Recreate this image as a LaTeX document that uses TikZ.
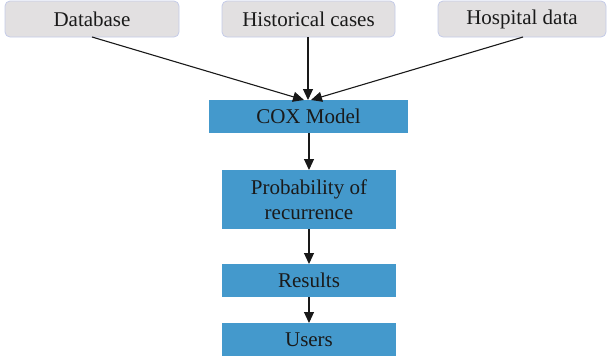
\documentclass[tikz,border=0pt]{standalone}
\usepackage{fontspec}
\setmainfont{Liberation Serif}
\usetikzlibrary{arrows.meta}
\definecolor{boxblue}{RGB}{68,153,204}
\definecolor{graybox}{RGB}{226,224,225}
\definecolor{grayedge}{RGB}{196,203,232}
\definecolor{txt}{RGB}{26,26,26}
\begin{document}
\begin{tikzpicture}[x=1pt,y=-1pt,
  every node/.style={font=\fontsize{21}{25}\selectfont, text=txt, inner sep=0pt, align=center},
  srcbox/.style={draw=grayedge, fill=graybox, rounded corners=5pt, line width=0.8pt},
  bluebox/.style={fill=boxblue},
  arr/.style={-{Triangle[length=11pt,width=10pt]}, line width=1.1pt, draw=black!90}]
\useasboundingbox (0,0) rectangle (607,360);
% source boxes
\draw[srcbox] (5,1) rectangle (179,37);
\node (db) at (92,19) {Database};
\draw[srcbox] (222,1) rectangle (395,37);
\node (hc) at (308.5,19) {Historical cases};
\draw[srcbox] (438,1) rectangle (606,37);
\node (hd) at (522,19) {Hospital data};
\coordinate (dbs) at (92,37);
\coordinate (hcs) at (308,37);
\coordinate (hds) at (523,37);
% blue boxes
\fill[bluebox] (209,100) rectangle (408,133);
\node (cox) at (308.5,116.5) {COX Model};
\fill[bluebox] (222,170) rectangle (396,229);
\node (prob) at (309,199.5) {Probability of\\recurrence};
\fill[bluebox] (222,264) rectangle (396,297);
\node (res) at (309,280.5) {Results};
\fill[bluebox] (222,323) rectangle (396,356);
\node (usr) at (309,339.5) {Users};
\coordinate (coxa) at (304,100);
\coordinate (coxb) at (308,100);
\coordinate (coxc) at (311,100);
\coordinate (coxbot) at (309,133);
\coordinate (probtop) at (309,170);
\coordinate (probbot) at (309,229);
\coordinate (restop) at (309,264);
\coordinate (resbot) at (309,297);
\coordinate (usrtop) at (309,323);
% connectors
\draw[arr] (dbs) -- (coxa);
\draw[arr] (hcs) -- (coxb);
\draw[arr] (hds) -- (coxc);
\draw[arr] (coxbot) -- (probtop);
\draw[arr] (probbot) -- (restop);
\draw[arr] (resbot) -- (usrtop);
\end{tikzpicture}
\end{document}
